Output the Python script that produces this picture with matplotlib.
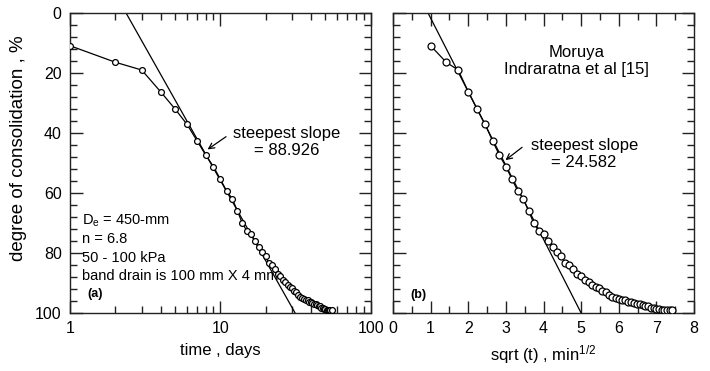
import numpy as np
import matplotlib
matplotlib.use("Agg")
import matplotlib.pyplot as plt
from matplotlib.ticker import MultipleLocator, LogLocator, NullFormatter, FixedLocator, FixedFormatter

plt.rcParams['font.family'] = ['Liberation Sans', 'DejaVu Sans']
plt.rcParams['mathtext.fontset'] = 'custom'
plt.rcParams['mathtext.rm'] = 'Liberation Sans'
plt.rcParams['mathtext.it'] = 'Liberation Sans'

# measured data, Moruya (time in days, degree of consolidation in %)
days = list(range(1, 56))
consolidation = [10.9, 16.4, 19.0, 26.2, 32.0, 37.1, 42.6, 47.4, 51.2, 55.4,
                 59.3, 61.9, 66.0, 70.1, 72.6, 73.8, 75.9, 78.1, 79.6, 81.0,
                 83.4, 84.0, 85.4, 87.0, 87.6, 89.0, 89.8, 90.6, 91.3, 91.8,
                 92.5, 93.0, 94.0, 94.6, 95.0, 95.4, 95.6, 95.8, 96.2, 96.4,
                 96.6, 96.9, 97.1, 97.3, 97.5, 97.8, 98.2, 98.4, 98.6, 98.8,
                 98.9, 98.9, 99.0, 98.9, 98.9]

# steepest slope lines
logSlope = 88.926
logIntercept = 2.36      # time where the log-line crosses 0 %
sqrtSlope = 24.582
sqrtIntercept = 0.932    # sqrt(t) where the sqrt-line crosses 0 %

leftNotes = ["D$_\\mathrm{e}$ = 450-mm", "n = 6.8", "50 - 100 kPa",
             "band drain is 100 mm X 4 mm"]

days = np.array(days, dtype=float)
consolidation = np.array(consolidation)

fig = plt.figure(figsize=(7.1, 3.71), dpi=100)
axA = fig.add_axes([0.0986, 0.1563, 0.4235, 0.8086])
axB = fig.add_axes([0.5535, 0.1563, 0.4240, 0.8086])

markerStyle = dict(color='black', lw=0.9, marker='o', ms=4.2, mfc='white',
                   mec='black', mew=0.9, zorder=3)


def styleAxis(ax):
    for s in ax.spines.values():
        s.set_linewidth(1.0)
        s.set_color('#222222')
    ax.tick_params(which='both', direction='in', top=True, right=True,
                   labelsize=11.5, width=1.0, color='#222222', pad=6)
    ax.tick_params(which='major', length=9)
    ax.tick_params(which='minor', length=5)
    ax.set_ylim(100, 0)
    ax.yaxis.set_major_locator(MultipleLocator(20))
    ax.yaxis.set_minor_locator(MultipleLocator(4))


# (a) log time
styleAxis(axA)
axA.set_xscale('log')
axA.set_xlim(1, 100)
axA.xaxis.set_major_locator(FixedLocator([1, 10, 100]))
axA.xaxis.set_major_formatter(FixedFormatter(['1', '10', '100']))
axA.xaxis.set_minor_locator(LogLocator(base=10, subs=np.arange(2, 10)))
axA.xaxis.set_minor_formatter(NullFormatter())

axA.plot(days, consolidation, **markerStyle)
tLine = np.array([logIntercept, logIntercept * 10 ** (100 / logSlope)])
axA.plot(tLine, logSlope * np.log10(tLine / logIntercept), color='black', lw=0.9, zorder=2)

axA.annotate('', xy=(7.94, 46.0), xytext=(11.3, 40.7),
             arrowprops=dict(arrowstyle='->', color='black', lw=0.9))
axA.text(27.5, 43.0, 'steepest slope\n= %.3f' % logSlope, ha='center', va='center',
         fontsize=12, linespacing=1.15)
for i, note in enumerate(leftNotes):
    axA.text(1.2, 69.2 + 6.2 * i, note, ha='left', va='center', fontsize=10.5, zorder=1)
axA.text(1.3, 93.8, '(a)', ha='left', va='center', fontsize=9, fontweight='bold')

axA.set_xlabel('time , days', fontsize=12, labelpad=5)
axA.set_ylabel('degree of consolidation , %', fontsize=13.5, labelpad=6)
axA.yaxis.label.set_y(0.55)

# (b) square root of time
styleAxis(axB)
axB.set_xlim(0, 8)
axB.xaxis.set_major_locator(MultipleLocator(1))
axB.xaxis.set_minor_locator(MultipleLocator(0.5))
axB.set_yticklabels([])

axB.plot(np.sqrt(days), consolidation, **dict(markerStyle, ms=5.0))
sLine = np.array([sqrtIntercept, sqrtIntercept + 100 / sqrtSlope])
axB.plot(sLine, sqrtSlope * (sLine - sqrtIntercept), color='black', lw=0.9, zorder=2)

axB.annotate('', xy=(2.93, 49.6), xytext=(3.49, 44.2),
             arrowprops=dict(arrowstyle='->', color='black', lw=0.9))
axB.text(5.08, 47.0, 'steepest slope\n= %.3f' % sqrtSlope, ha='center', va='center',
         fontsize=12, linespacing=1.15)
axB.text(4.88, 16.0, 'Moruya\nIndraratna et al [15]', ha='center', va='center',
         fontsize=12, linespacing=1.15)
axB.text(0.45, 94.0, '(b)', ha='left', va='center', fontsize=9, fontweight='bold')

axB.set_xlabel('sqrt (t) , min$^{1/2}$', fontsize=12, labelpad=5)

fig.savefig('out.png', dpi=100)
